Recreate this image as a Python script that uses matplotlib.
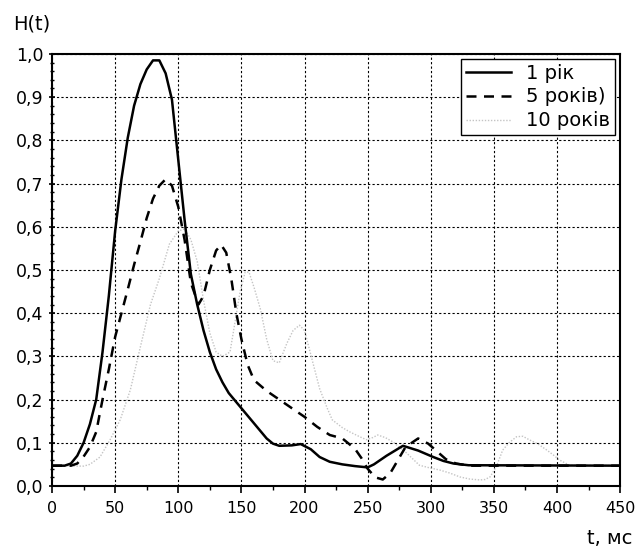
import numpy as np
import matplotlib.pyplot as plt
from matplotlib.ticker import MultipleLocator, FuncFormatter

# 1 рік
t1 = [0, 10, 15, 20, 25, 30, 35, 40, 45, 50, 55, 60, 65, 70, 75, 80, 85, 90, 95, 100,
      105, 110, 115, 120, 125, 130, 135, 140, 150, 160, 170, 175, 180, 190, 197, 205,
      212, 220, 230, 240, 250, 255, 265, 278, 290, 302, 310, 318, 330, 450]
h1 = [0.047, 0.047, 0.052, 0.07, 0.1, 0.143, 0.2, 0.31, 0.44, 0.59, 0.71, 0.806, 0.88,
      0.93, 0.964, 0.985, 0.985, 0.955, 0.894, 0.755, 0.616, 0.49, 0.42, 0.36, 0.31,
      0.27, 0.24, 0.215, 0.18, 0.145, 0.11, 0.098, 0.093, 0.094, 0.097, 0.085, 0.067,
      0.056, 0.05, 0.046, 0.043, 0.05, 0.07, 0.093, 0.082, 0.067, 0.058, 0.052, 0.048, 0.047]

# 5 років
t5 = [0, 15, 20, 25, 30, 35, 40, 45, 50, 55, 60, 65, 70, 75, 80, 85, 90, 95, 100, 105,
      110, 116, 120, 125, 130, 134, 138, 142, 146, 150, 155, 160, 170, 180, 190, 200,
      210, 220, 230, 240, 245, 250, 256, 262, 268, 274, 280, 290, 298, 305, 312, 320,
      330, 450]
h5 = [0.047, 0.047, 0.052, 0.068, 0.09, 0.125, 0.2, 0.27, 0.345, 0.4, 0.455, 0.512,
      0.565, 0.62, 0.665, 0.695, 0.71, 0.695, 0.646, 0.57, 0.47, 0.42, 0.44, 0.5, 0.545,
      0.558, 0.54, 0.48, 0.4, 0.34, 0.28, 0.245, 0.22, 0.2, 0.18, 0.16, 0.137, 0.118,
      0.11, 0.086, 0.065, 0.04, 0.02, 0.015, 0.03, 0.06, 0.09, 0.11, 0.098, 0.08, 0.062,
      0.052, 0.047, 0.047]

# 10 років
t10 = [0, 10, 20, 25, 30, 38, 46, 54, 62, 70, 78, 85, 93, 100, 105, 110, 115, 120, 125,
       130, 135, 141, 145, 149, 153, 156, 160, 165, 170, 175, 180, 186, 191, 196, 200,
       204, 208, 212, 218, 222, 230, 236, 243, 249, 254, 258, 264, 270, 276, 281, 286,
       291, 299, 307, 315, 323, 331, 339, 343, 347, 352, 357, 362, 368, 373, 378, 385,
       392, 397, 402, 410, 450]
h10 = [0.047, 0.047, 0.046, 0.046, 0.05, 0.067, 0.107, 0.153, 0.222, 0.322, 0.42, 0.48,
       0.56, 0.59, 0.595, 0.57, 0.52, 0.43, 0.354, 0.31, 0.30, 0.31, 0.38, 0.45, 0.495,
       0.495, 0.46, 0.41, 0.34, 0.29, 0.285, 0.33, 0.36, 0.372, 0.36, 0.315, 0.27, 0.225,
       0.18, 0.153, 0.135, 0.125, 0.115, 0.107, 0.112, 0.118, 0.112, 0.102, 0.088, 0.076,
       0.062, 0.048, 0.042, 0.037, 0.03, 0.021, 0.016, 0.014, 0.015, 0.021, 0.045, 0.083,
       0.1, 0.114, 0.115, 0.107, 0.097, 0.083, 0.072, 0.06, 0.048, 0.047]

labels = ['1 рік', '5 років)', '10 років']

plt.rcParams['font.family'] = ['DejaVu Sans']

fig = plt.figure(figsize=(6.36, 5.5), dpi=100)
ax = fig.add_axes([0.0818, 0.1164, 0.8932, 0.7856])

ax.plot(t1, h1, color='black', lw=1.8, label=labels[0], zorder=3)
ax.plot(t5, h5, color='black', lw=1.8, linestyle=(0, (4, 3)), label=labels[1], zorder=3)
ax.plot(t10, h10, color='#c4c4c4', lw=1.0, linestyle=(0, (1, 1.2)), label=labels[2], zorder=2)

ax.set_xlim(0, 450)
ax.set_ylim(0, 1.0)
ax.xaxis.set_major_locator(MultipleLocator(50))
ax.xaxis.set_minor_locator(MultipleLocator(25))
ax.yaxis.set_major_locator(MultipleLocator(0.1))
ax.yaxis.set_minor_locator(MultipleLocator(0.02))
ax.yaxis.set_major_formatter(FuncFormatter(lambda v, p: f'{v:.1f}'.replace('.', ',')))
ax.tick_params(axis='both', which='major', direction='out', length=5, width=1.2,
               colors='black')
ax.tick_params(axis='both', which='minor', direction='out', length=3, width=1.0)
ax.tick_params(axis='y', which='both', direction='inout', labelsize=12.5)
ax.tick_params(axis='x', which='major', labelsize=11.5, pad=6)
for s in ax.spines.values():
    s.set_linewidth(1.5)

ax.grid(True, which='major', color='black', linestyle=(0, (2, 2)), lw=0.8)

leg = ax.legend(loc='upper right', fontsize=14, frameon=True, fancybox=False,
                edgecolor='black', framealpha=1, handlelength=2.3,
                borderaxespad=0.25, labelspacing=0.25, borderpad=0.25, handletextpad=0.8)
leg.get_frame().set_linewidth(1.0)

fig.text(0.02, 0.947, 'H(t)', fontsize=14)
fig.text(0.995, 0.01, 't, мс', fontsize=14, ha='right')

fig.savefig('out.png', dpi=100)
